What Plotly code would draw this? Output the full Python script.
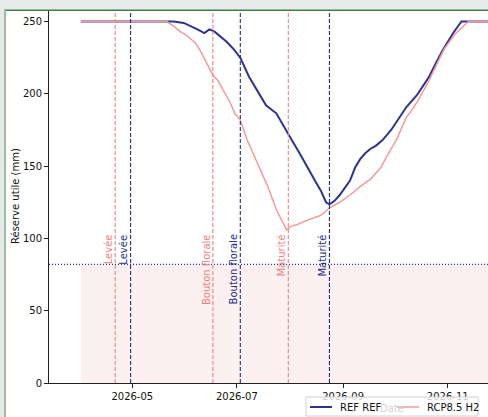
import plotly.graph_objects as go

# ---------------- data ----------------
ref_dates = ["2026-04-01", "2026-05-25", "2026-05-31", "2026-06-04", "2026-06-08", "2026-06-12",
             "2026-06-15", "2026-06-18", "2026-06-22", "2026-06-25", "2026-06-29", "2026-07-03",
             "2026-07-08", "2026-07-14", "2026-07-18", "2026-07-24", "2026-07-28", "2026-08-02",
             "2026-08-07", "2026-08-12", "2026-08-16", "2026-08-19", "2026-08-22", "2026-08-24",
             "2026-08-27", "2026-08-30", "2026-09-02", "2026-09-05", "2026-09-08", "2026-09-11",
             "2026-09-14", "2026-09-17", "2026-09-20", "2026-09-24", "2026-09-29", "2026-10-03",
             "2026-10-08", "2026-10-14", "2026-10-21", "2026-10-25", "2026-10-29", "2026-11-04",
             "2026-11-09", "2026-12-31"]
ref_values = [250, 250, 249, 247, 244.5, 242,
              244.5, 243, 239, 236, 231, 225,
              212, 200, 192, 186.5, 178, 168,
              158, 147, 139, 133, 125, 123.5,
              126, 130, 135, 140, 149, 155,
              159, 162, 164, 168, 175, 182,
              191, 199, 211.5, 221, 230, 241.7,
              250, 250]

rcp_dates = ["2026-04-01", "2026-05-21", "2026-05-25", "2026-05-29", "2026-06-01", "2026-06-04",
             "2026-06-07", "2026-06-10", "2026-06-13", "2026-06-17", "2026-06-20", "2026-06-24",
             "2026-06-27", "2026-06-30", "2026-07-03", "2026-07-07", "2026-07-11", "2026-07-15",
             "2026-07-19", "2026-07-24", "2026-07-27", "2026-07-30", "2026-08-01", "2026-08-06",
             "2026-08-12", "2026-08-19", "2026-08-24", "2026-08-30", "2026-09-05", "2026-09-11",
             "2026-09-17", "2026-09-23", "2026-09-27", "2026-10-02", "2026-10-08", "2026-10-11",
             "2026-10-15", "2026-10-21", "2026-10-25", "2026-10-30", "2026-11-05", "2026-11-13",
             "2026-12-31"]
rcp_values = [250, 250, 247, 243, 241, 238,
              235, 229, 222, 213, 209, 201,
              194, 186, 182, 168, 157, 146,
              136, 120, 113, 106, 108, 110,
              113, 116, 121, 125, 130, 136,
              141, 149, 158, 168, 184, 188.5,
              196, 209, 219, 231, 241, 250,
              250]

threshold = 82
fill_period = ["2026-04-01", "2026-12-31"]

stage_labels = ["Levée", "Bouton florale", "Maturité"]
ref_stage_dates = ["2026-04-30", "2026-07-03", "2026-08-24"]
rcp_stage_dates = ["2026-04-21", "2026-06-17", "2026-07-31"]

series_names = ["REF REF", "RCP8.5 H2"]
x_tick_vals = ["2026-05-01", "2026-07-01", "2026-09-01", "2026-11-01"]
y_tick_vals = [0, 50, 100, 150, 200, 250]

# ---------------- style ----------------
NAVY = "#2b3590"
NAVY_V = "#232d8a"
PINK = "#f29b9b"
PINK_V = "#f08080"
FONT = "DejaVu Sans"
TXT = "#111111"

W, H = 488, 417
ML, MR, MT, MB = 49, 0, 11, 34
PW = W - ML - MR
PH = H - MT - MB


def px_x(px):
    return (px - ML) / PW


def px_y(py):
    return (H - MB - py) / PH


fig = go.Figure()

# fill below threshold
fig.add_trace(go.Scatter(
    x=fill_period, y=[threshold, threshold], mode="lines",
    line=dict(width=0), fill="tozeroy", fillcolor="rgba(240,128,128,0.12)",
    showlegend=False, hoverinfo="skip"))

series_colors = [NAVY, PINK]
series_widths = [2, 1.5]
fig.add_trace(go.Scatter(x=ref_dates, y=ref_values, mode="lines", name=series_names[0],
                         line=dict(color=series_colors[0], width=series_widths[0])))
fig.add_trace(go.Scatter(x=rcp_dates, y=rcp_values, mode="lines", name=series_names[1],
                         line=dict(color=series_colors[1], width=series_widths[1])))

shapes = []
annotations = []

# horizontal dotted threshold line
shapes.append(dict(type="line", xref="paper", x0=0, x1=1, yref="y", y0=threshold, y1=threshold,
                   line=dict(color=NAVY_V, width=1.2, dash="1px,2px"), layer="above"))

for lab, d in zip(stage_labels, rcp_stage_dates):
    shapes.append(dict(type="line", xref="x", x0=d, x1=d, yref="paper", y0=0, y1=1,
                       line=dict(color=PINK_V, width=1.1, dash="4px,2px"), layer="above"))
    annotations.append(dict(x=d, y=104, xref="x", yref="y", text=lab, textangle=-90,
                            xanchor="right", yanchor="top", showarrow=False, xshift=1,
                            font=dict(family=FONT, size=10, color=PINK_V)))
for lab, d in zip(stage_labels, ref_stage_dates):
    shapes.append(dict(type="line", xref="x", x0=d, x1=d, yref="paper", y0=0, y1=1,
                       line=dict(color=NAVY_V, width=1.1, dash="4px,2px"), layer="above"))
    annotations.append(dict(x=d, y=104, xref="x", yref="y", text=lab, textangle=-90,
                            xanchor="right", yanchor="top", showarrow=False, xshift=1,
                            font=dict(family=FONT, size=10, color=NAVY_V)))

# frame decoration (grey band + green border)
shapes.append(dict(type="rect", xref="paper", yref="paper", x0=px_x(0), x1=px_x(W),
                   y0=px_y(9.5), y1=px_y(0), fillcolor="#e6eae8", line=dict(width=0), layer="above"))
shapes.append(dict(type="rect", xref="paper", yref="paper", x0=px_x(0), x1=px_x(4),
                   y0=px_y(H), y1=px_y(9.5), fillcolor="#e6eae8", line=dict(width=0), layer="above"))
shapes.append(dict(type="line", xref="paper", yref="paper", x0=px_x(4), x1=px_x(W),
                   y0=px_y(10.2), y1=px_y(10.2), line=dict(color="#3f7a4c", width=1.6), layer="above"))
shapes.append(dict(type="line", xref="paper", yref="paper", x0=px_x(5), x1=px_x(5),
                   y0=px_y(H), y1=px_y(10), line=dict(color="#9dbea5", width=2), layer="above"))

# y-axis title and faint x title (seen through the semi-transparent legend)
annotations.append(dict(x=px_x(15), y=px_y(196), xref="paper", yref="paper",
                        text="Réserve utile (mm)", textangle=-90, showarrow=False,
                        xanchor="center", yanchor="middle",
                        font=dict(family=FONT, size=10, color=TXT)))
annotations.append(dict(x=px_x(392), y=px_y(408), xref="paper", yref="paper",
                        text="Date", showarrow=False, xanchor="center", yanchor="middle",
                        font=dict(family=FONT, size=10, color="#d2d2d2")))

# legend box drawn by hand (matplotlib-like sizing)
shapes.append(dict(type="rect", xref="paper", yref="paper", x0=px_x(306), x1=px_x(478),
                   y0=px_y(416), y1=px_y(397), fillcolor="rgba(255,255,255,0.8)",
                   line=dict(color="#d0d0d0", width=1), layer="above"))
leg_line_x = [(310, 332), (397, 419)]
leg_text_x = [338, 425]
for i in range(2):
    shapes.append(dict(type="line", xref="paper", yref="paper",
                       x0=px_x(leg_line_x[i][0]), x1=px_x(leg_line_x[i][1]),
                       y0=px_y(407), y1=px_y(407),
                       line=dict(color=series_colors[i], width=series_widths[i]), layer="above"))
    annotations.append(dict(x=px_x(leg_text_x[i]), y=px_y(407), xref="paper", yref="paper",
                            text=series_names[i], showarrow=False, xanchor="left",
                            yanchor="middle", font=dict(family=FONT, size=10, color=TXT)))

fig.update_layout(
    width=W, height=H,
    margin=dict(l=ML, r=MR, t=MT, b=MB, autoexpand=False),
    paper_bgcolor="white", plot_bgcolor="white",
    font=dict(family=FONT, size=10, color=TXT),
    shapes=shapes, annotations=annotations,
    showlegend=False,
    xaxis=dict(type="date", range=["2026-03-13 09:36", "2026-11-24 12:00"],
               tickvals=x_tick_vals, tickformat="%Y-%m", showgrid=False, zeroline=False,
               showline=True, linecolor="#222222", linewidth=1, ticks="outside", ticklen=4,
               tickcolor="#222222", tickfont=dict(family=FONT, size=10, color=TXT)),
    yaxis=dict(range=[0, PH / 1.446], tickvals=y_tick_vals, showgrid=False, zeroline=False,
               showline=True, linecolor="#222222", linewidth=1, ticks="outside", ticklen=4,
               tickcolor="#222222", tickfont=dict(family=FONT, size=10, color=TXT)),
)

fig.write_html("out.html")
